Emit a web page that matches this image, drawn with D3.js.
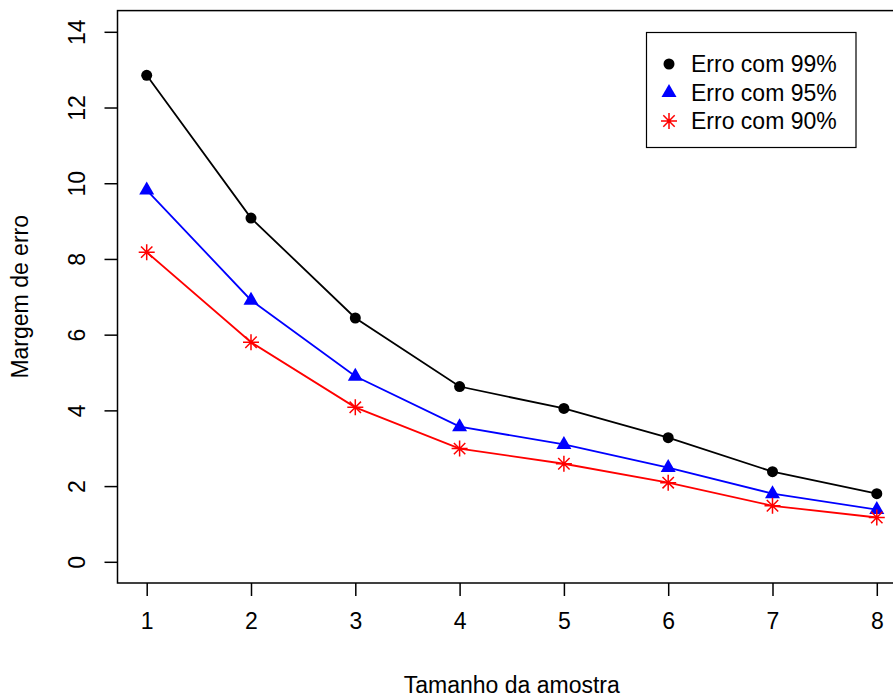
<!DOCTYPE html>
<html>
<head>
<meta charset="utf-8">
<title>Margem de erro</title>
<script src="https://cdn.jsdelivr.net/npm/d3@7"></script>
<style>
  body { margin: 0; background: #fff; }
  svg { display: block; font-family: "Liberation Sans", Arial, sans-serif; }
</style>
</head>
<body>
<div id="chart"></div>
<script>
// sample sizes and error margins
var tamanhos = [1, 2, 3, 4, 5, 6, 7, 8];
var erro99 = [12.85, 9.08, 6.44, 4.63, 4.05, 3.28, 2.38, 1.8];
var erro95 = [9.82, 6.91, 4.9, 3.57, 3.1, 2.49, 1.8, 1.38];
var erro90 = [8.18, 5.8, 4.08, 2.99, 2.59, 2.09, 1.48, 1.17];
var xTicks = [1, 2, 3, 4, 5, 6, 7, 8];
var yTicks = [0, 2, 4, 6, 8, 10, 12, 14];
var rotulos = ["Erro com 99%", "Erro com 95%", "Erro com 90%"];

var W = 893, H = 695;
var box = {left: 117.5, right: 906, top: 10.6, bottom: 583};

var svg = d3.select("#chart").append("svg")
    .attr("width", W).attr("height", H);

// R style: 4% padding on each side
var x = d3.scaleLinear().domain([0.72, 8.28]).range([box.left, box.right]);
var y = d3.scaleLinear().domain([-0.56, 14.56]).range([box.bottom, box.top]);

svg.append("rect")
    .attr("x", box.left).attr("y", box.top)
    .attr("width", box.right - box.left).attr("height", box.bottom - box.top)
    .attr("fill", "none").attr("stroke", "#000").attr("stroke-width", 1.5);

var xAxis = svg.append("g")
    .attr("transform", "translate(0," + box.bottom + ")")
    .call(d3.axisBottom(x).tickValues(xTicks).tickSize(13).tickPadding(17).tickFormat(d3.format("d")));
var yAxis = svg.append("g")
    .attr("transform", "translate(" + box.left + ",0)")
    .call(d3.axisLeft(y).tickValues(yTicks).tickSize(13).tickFormat(d3.format("d")));

[xAxis, yAxis].forEach(function(a) {
  a.select(".domain").remove();
  a.selectAll(".tick line").attr("stroke", "#000").attr("stroke-width", 1.5);
  a.selectAll(".tick text").attr("fill", "#000").style("font-size", "23px")
    .style("font-family", "Liberation Sans, Arial, sans-serif");
});
yAxis.selectAll(".tick text")
    .attr("text-anchor", "middle")
    .attr("dy", null)
    .attr("x", 0).attr("y", 0)
    .attr("transform", "translate(-33,0) rotate(-90)");

svg.append("text")
    .attr("x", (box.left + box.right) / 2).attr("y", 693)
    .attr("text-anchor", "middle").style("font-size", "23px")
    .text("Tamanho da amostra");
svg.append("text")
    .attr("transform", "translate(28," + ((box.top + box.bottom) / 2) + ") rotate(-90)")
    .attr("text-anchor", "middle").style("font-size", "23px")
    .text("Margem de erro");

var line = d3.line()
    .x(function(d, i) { return x(tamanhos[i]); })
    .y(function(d) { return y(d); });

var series = [
  {vals: erro99, cor: "#000000", forma: "circulo"},
  {vals: erro95, cor: "#0000ff", forma: "triangulo"},
  {vals: erro90, cor: "#ff0000", forma: "asterisco"}
];

function marcador(g, forma, cor) {
  if (forma == "circulo") {
    g.append("circle").attr("r", 5.5).attr("fill", cor);
  } else if (forma == "triangulo") {
    g.append("path").attr("d", "M0,-8.5L7.5,4.5L-7.5,4.5Z").attr("fill", cor);
  } else {
    var s = 8, k = 5.7;
    g.append("path")
      .attr("d", "M" + (-s) + ",0L" + s + ",0M0," + (-s) + "L0," + s +
                 "M" + (-k) + "," + (-k) + "L" + k + "," + k +
                 "M" + (-k) + "," + k + "L" + k + "," + (-k))
      .attr("stroke", cor).attr("stroke-width", 1.5).attr("fill", "none");
  }
}

series.forEach(function(s) {
  svg.append("path").datum(s.vals)
    .attr("d", line)
    .attr("fill", "none").attr("stroke", s.cor).attr("stroke-width", 1.8);
  s.vals.forEach(function(v, i) {
    var g = svg.append("g").attr("transform", "translate(" + x(tamanhos[i]) + "," + y(v) + ")");
    marcador(g, s.forma, s.cor);
  });
});

// legend
var leg = svg.append("g");
leg.append("rect")
    .attr("x", 646.5).attr("y", 32.5).attr("width", 209.5).attr("height", 115)
    .attr("fill", "#fff").attr("stroke", "#000").attr("stroke-width", 1.2);
series.forEach(function(s, i) {
  var yy = 64 + i * 28.5;
  var g = leg.append("g").attr("transform", "translate(669," + yy + ")");
  marcador(g, s.forma, s.cor);
  leg.append("text")
    .attr("x", 691).attr("y", yy).attr("dy", "0.36em")
    .style("font-size", "23px")
    .text(rotulos[i]);
});
</script>
</body>
</html>
